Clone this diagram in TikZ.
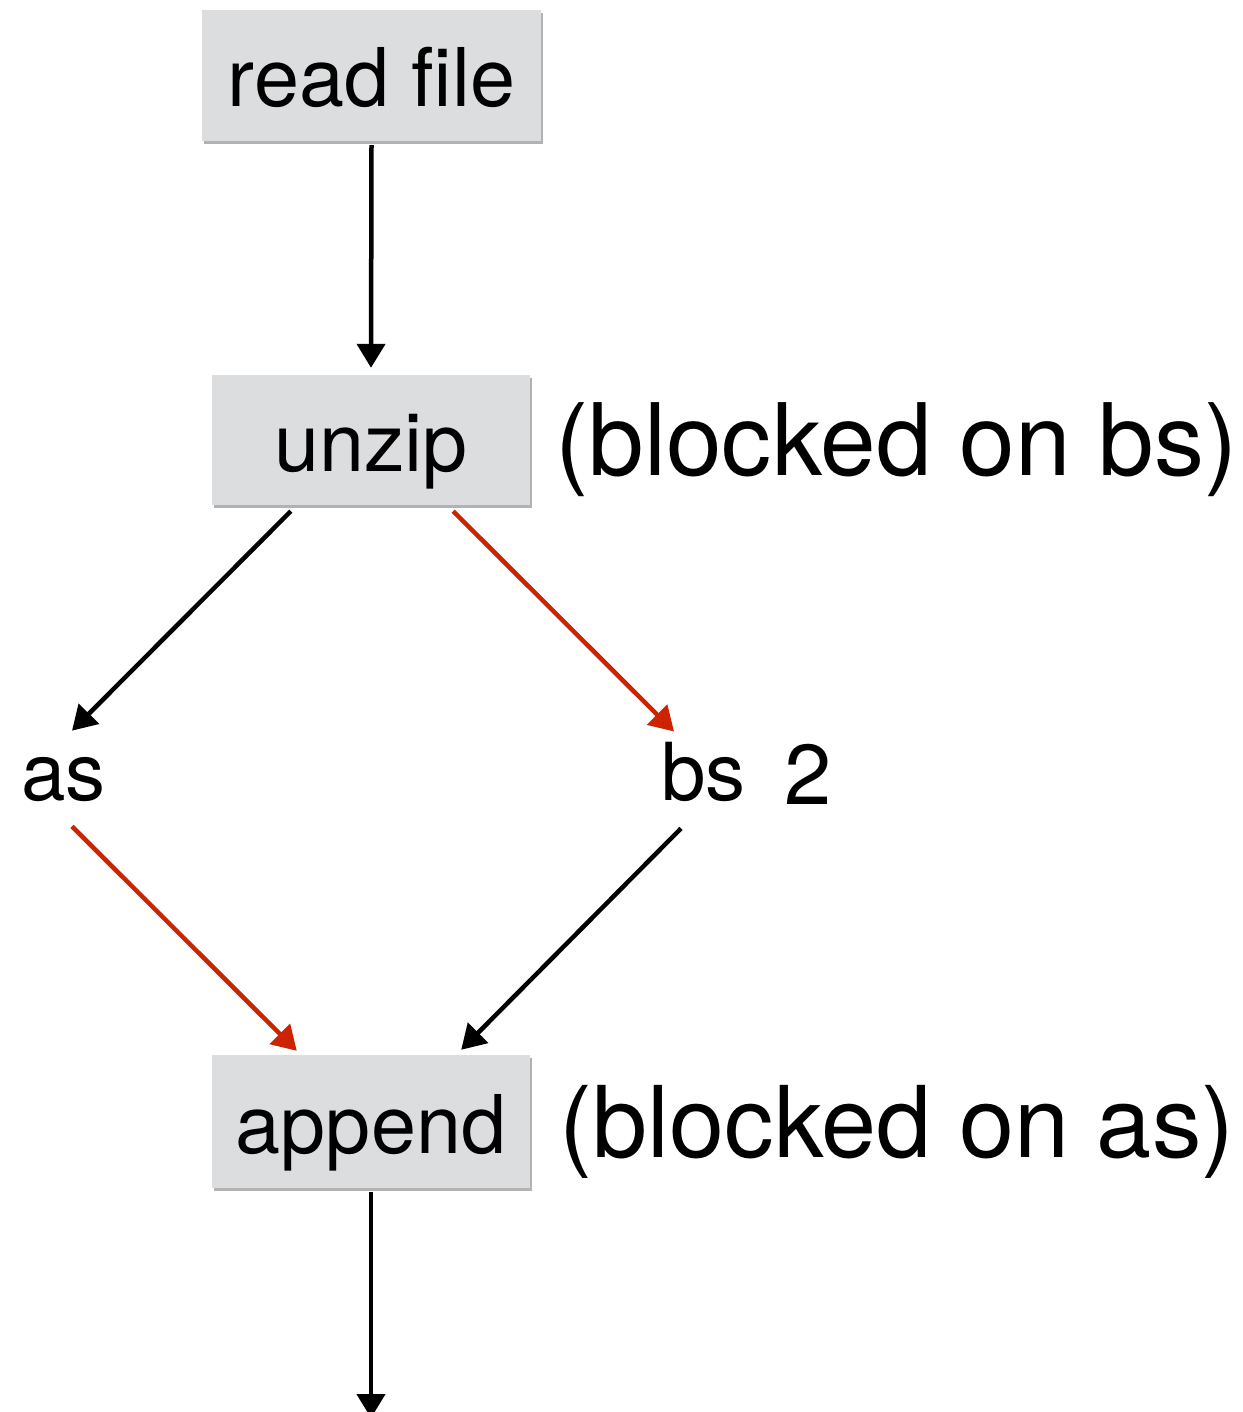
\documentclass[tikz,border=0pt]{standalone}
\usepackage{fontspec}
\setmainfont{TeX Gyre Heros}
\usetikzlibrary{arrows.meta,shadows}
\definecolor{boxgray}{RGB}{220,221,223}
\definecolor{flowred}{RGB}{204,36,0}
\tikzset{
  opbox/.style={rectangle, fill=boxgray, inner sep=0pt, anchor=center,
    text height=78pt, text depth=15pt,
    drop shadow={shadow xshift=1.5pt, shadow yshift=-3pt, opacity=0.3, fill=black},
    font=\fontsize{81}{96}\selectfont},
  lbl/.style={inner sep=0pt, anchor=base west},
  flow/.style={line width=4.5pt, -{Triangle[length=24pt,width=28pt]}},
  redflow/.style={flow, color=flowred}
}
\begin{document}
\begin{tikzpicture}[x=1pt,y=-1pt]
\useasboundingbox[fill=white] (0,0) rectangle (1242,1412);

\node[opbox, minimum width=339pt, minimum height=131pt] (read) at (371.5,75.5) {read file};
\node[opbox, minimum width=318pt, minimum height=130pt] (unzip) at (371,440) {unzip};
\node[opbox, minimum width=318pt, minimum height=133pt] (append) at (371,1121.5) {append};

\node[lbl, font=\fontsize{100}{120}\selectfont] (bbs) at (555,475) {(blocked on bs)};
\node[lbl, font=\fontsize{99}{120}\selectfont] (bas) at (559,1157) {(blocked on as)};

\node[lbl, font=\fontsize{80}{96}\selectfont] (as) at (21,800) {as};
\node[lbl, font=\fontsize{80}{96}\selectfont] (bs) at (661,800) {bs};
\node[lbl, font=\fontsize{85}{100}\selectfont] (two) at (784,804) {2};

\coordinate (out) at (371,1418);

\draw[flow] ([yshift=-4pt]read.south) -- ([yshift=7pt]unzip.north);
\draw[flow] ([xshift=79pt,yshift=-6pt]unzip.south west) -- ([xshift=51pt,yshift=26pt]as.north west);
\draw[redflow] ([xshift=-77pt,yshift=-6pt]unzip.south east) -- ([xshift=13pt,yshift=10pt]bs.north west);
\draw[redflow] ([xshift=51pt,yshift=-25pt]as.south west) -- ([xshift=85pt,yshift=4pt]append.north west);
\draw[flow] ([xshift=20pt,yshift=-27pt]bs.south west) -- ([xshift=-69pt,yshift=5pt]append.north east);
\draw[flow] ([yshift=-4pt]append.south) -- (out);
\end{tikzpicture}
\end{document}
